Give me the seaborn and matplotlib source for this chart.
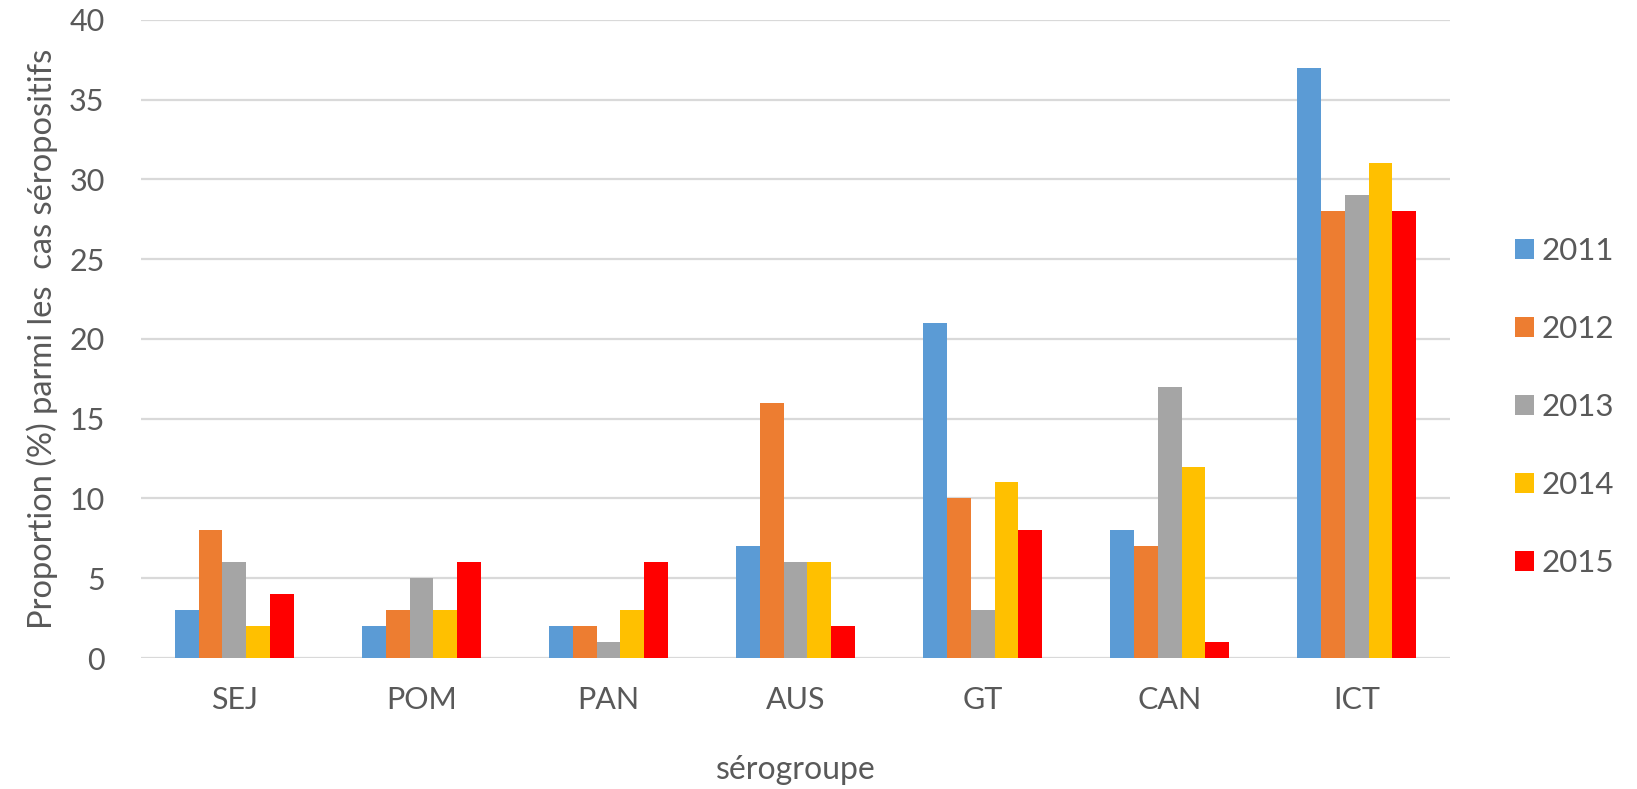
import matplotlib
matplotlib.use("Agg")
import matplotlib.pyplot as plt
import seaborn as sns
import pandas as pd

# Serogroups on the x axis and the years shown as hue
categories = ["SEJ", "POM", "PAN", "AUS", "GT", "CAN", "ICT"]
years = ["2011", "2012", "2013", "2014", "2015"]

# Proportion (%) among seropositive cases, per year
v2011 = [3, 2, 2, 7, 21, 8, 37]
v2012 = [8, 3, 2, 16, 10, 7, 28]
v2013 = [6, 5, 1, 6, 3, 17, 29]
v2014 = [2, 3, 3, 6, 11, 12, 31]
v2015 = [4, 6, 6, 2, 8, 1, 28]

colors = ["#5B9BD5", "#ED7D31", "#A5A5A5", "#FFC000", "#FF0000"]
yticks = [0, 5, 10, 15, 20, 25, 30, 35, 40]

series = [v2011, v2012, v2013, v2014, v2015]
rows = []
for year, vals in zip(years, series):
    for cat, v in zip(categories, vals):
        rows.append({"sérogroupe": cat, "année": year, "valeur": v})
df = pd.DataFrame(rows)

sns.set_theme(style="white")
plt.rcParams["font.family"] = ["Lato", "DejaVu Sans"]

text_color = "#595959"
grid_color = "#D9D9D9"

fig = plt.figure(figsize=(16.37, 7.89), dpi=100)
ax = fig.add_axes([0.086, 0.166, 0.80, 0.809])

sns.barplot(data=df, x="sérogroupe", y="valeur", hue="année",
            order=categories, hue_order=years, palette=colors,
            width=0.635, gap=0, saturation=1, linewidth=0,
            errorbar=None, ax=ax, zorder=3)

ax.set_ylim(0, 40)
ax.set_yticks(yticks)
ax.set_xlim(-0.5, len(categories) - 0.5)
ax.yaxis.grid(True, color=grid_color, linewidth=1.6, zorder=0)
ax.set_axisbelow(True)
for s in ax.spines.values():
    s.set_visible(False)
ax.tick_params(axis="both", length=0, labelsize=22, colors=text_color)
ax.tick_params(axis="x", pad=20)
ax.tick_params(axis="y", pad=26)

ax.set_xlabel("sérogroupe", fontsize=23, color=text_color, labelpad=30)
ax.set_ylabel("Proportion (%) parmi les  cas séropositifs", fontsize=23.5,
              color=text_color, labelpad=8)

handles, labels = ax.get_legend_handles_labels()
leg = ax.legend(handles, labels, loc="center left", bbox_to_anchor=(1.028, 0.393),
                frameon=False, fontsize=22.5, handlelength=0.6, handleheight=0.6,
                handletextpad=0.25, labelspacing=1.6, labelcolor=text_color)

fig.savefig("out.png", dpi=100, facecolor="white")
